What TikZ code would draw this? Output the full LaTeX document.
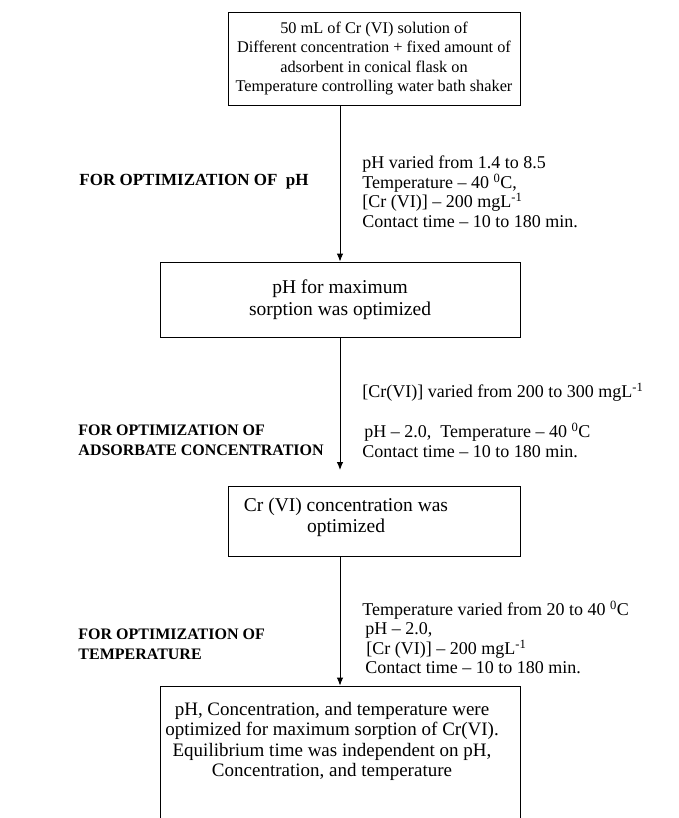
\documentclass[tikz,border=0pt]{standalone}
\usepackage{fontspec}
\setmainfont{Liberation Serif}
\usetikzlibrary{arrows.meta}

\begin{document}
\begin{tikzpicture}[
  x=1pt,y=-1pt,
  >={Latex[length=8pt,width=6.5pt]},
  line width=0.9pt,
  every node/.style={font=\fontsize{18}{19.5}\selectfont},
  stage box/.style={rectangle,draw,inner sep=0pt,align=center},
  cond text/.style={anchor=west,align=left,inner sep=0pt},
  goal text/.style={anchor=west,align=left,inner sep=0pt,font=\fontsize{16}{20.5}\selectfont\bfseries},
  box text/.style={align=center,inner sep=0pt,font=\fontsize{19}{20.3}\selectfont},
]
\useasboundingbox (0,0) rectangle (678,818);
\clip (0,0) rectangle (678,818);
% process boxes
\node[stage box,minimum width=292pt,minimum height=93pt,font=\fontsize{16.3}{19.3}\selectfont] (s1) at (374,58.5)
  {50 mL of Cr (VI) solution of\\Different concentration + fixed amount of\\
   adsorbent in conical flask on\\Temperature controlling water bath shaker};
\node[stage box,minimum width=360pt,minimum height=75pt,font=\fontsize{19.5}{21.5}\selectfont] (s2) at (340,299.5)
  {pH for maximum\\sorption was optimized};
\node[stage box,minimum width=292pt,minimum height=70pt] (s3) at (374,521) {};
\node[box text,font=\fontsize{19.5}{20.5}\selectfont] (t3) at (346,517.5) {Cr (VI) concentration was\\optimized};
\node[stage box,minimum width=360pt,minimum height=150pt] (s4) at (340,761) {};
\node[box text] (t4) at (332,741.5)
  {pH, Concentration, and temperature were\\optimized for maximum sorption of Cr(VI).\\
   Equilibrium time was independent on pH,\\Concentration, and temperature};
% what is optimized at each step
\node[goal text,font=\fontsize{17}{20.5}\selectfont\bfseries] (g1) at (79,182) {FOR OPTIMIZATION OF\ \ pH};
\node[goal text] (g2) at (78,440.5) {FOR OPTIMIZATION OF\\ADSORBATE CONCENTRATION};
\node[goal text] (g3) at (78,644.5) {FOR OPTIMIZATION OF\\TEMPERATURE};
% conditions
\node[cond text] (c1) at (362,192)
  {pH varied from 1.4 to 8.5\\Temperature -- 40 \textsuperscript{0}C,\\
   {[Cr (VI)]} -- 200 mgL\textsuperscript{-1}\\Contact time -- 10 to 180 min.};
\node[cond text] (c2) at (362,420.5)
  {{[Cr(VI)]} varied from 200 to 300 mgL\textsuperscript{-1}\\[20.5pt]
   \hspace*{2pt}pH -- 2.0,\ \ Temperature -- 40 \textsuperscript{0}C\\Contact time -- 10 to 180 min.};
\node[cond text] (c3) at (362,637.5)
  {Temperature varied from 20 to 40 \textsuperscript{0}C\\\hspace*{3pt}pH -- 2.0,\\
   \hspace*{4pt}[Cr (VI)] -- 200 mgL\textsuperscript{-1}\\\hspace*{3pt}Contact time -- 10 to 180 min.};
% arrows
\coordinate (a2) at (340,470);
\draw[->] (s1.south -| s2.north) -- (s2.north);
\draw[->] (s2.south) -- (a2);
\draw[->] (s3.south -| s2.north) -- (s4.north);
\end{tikzpicture}
\end{document}
